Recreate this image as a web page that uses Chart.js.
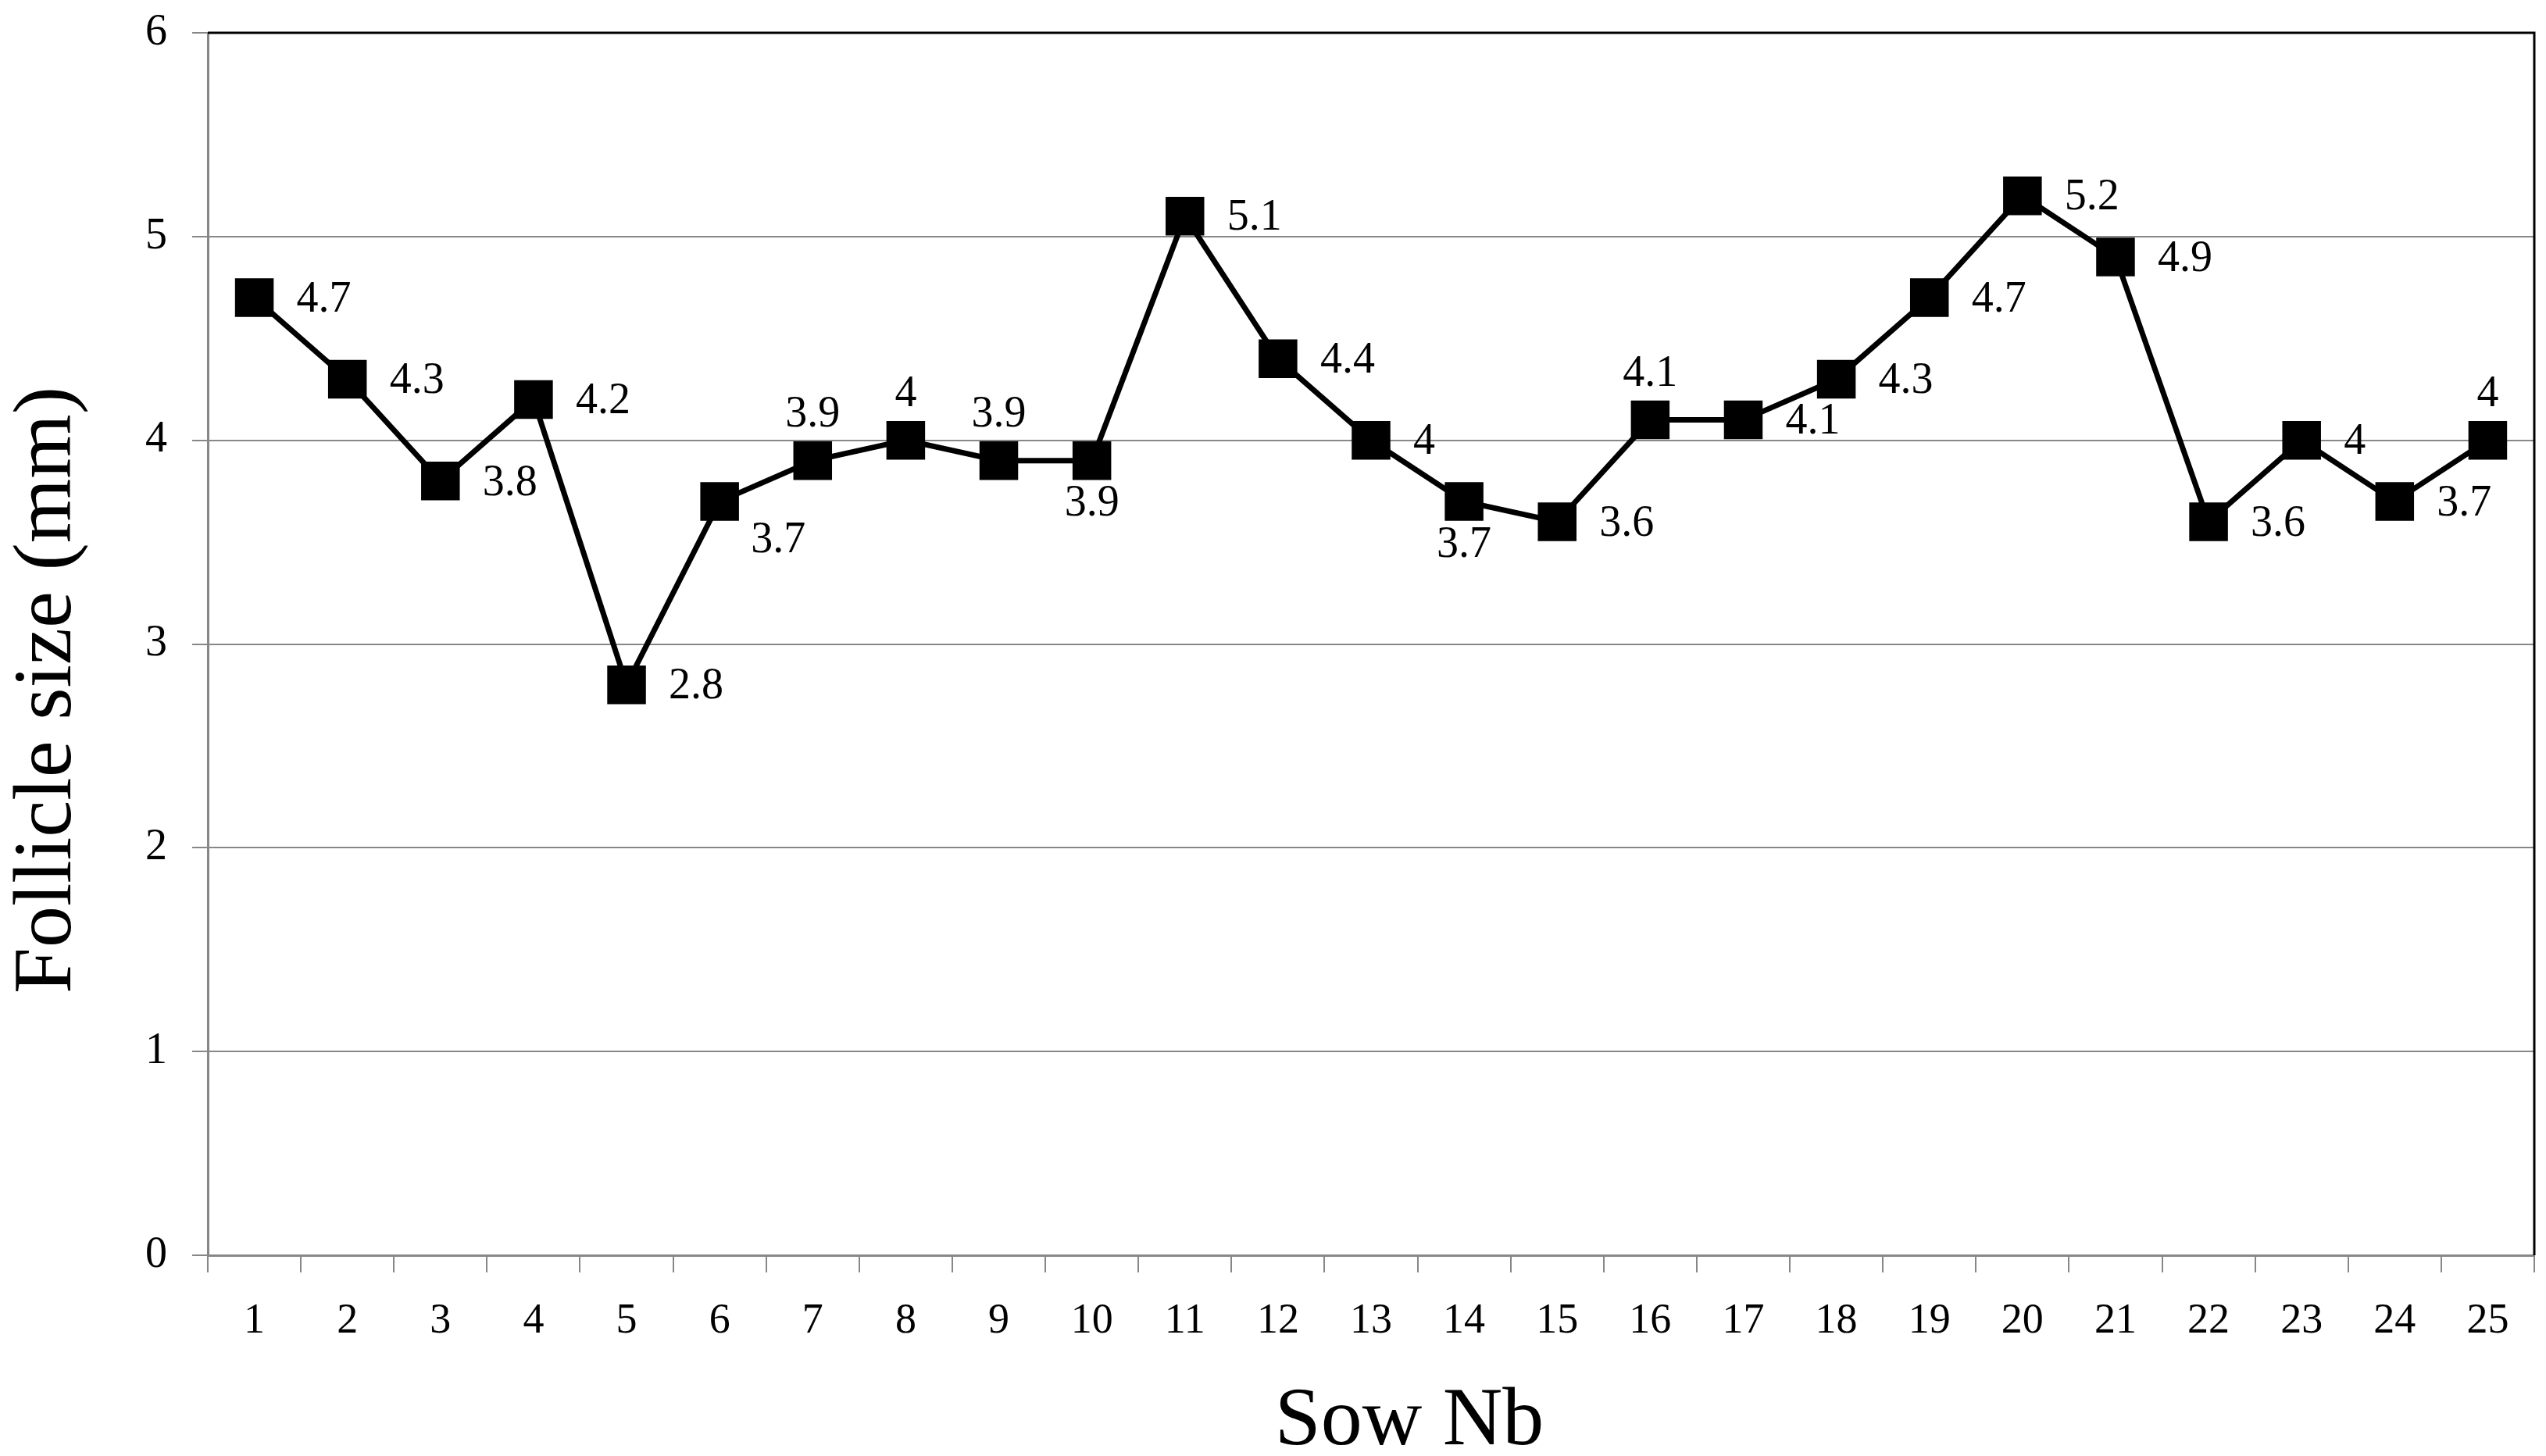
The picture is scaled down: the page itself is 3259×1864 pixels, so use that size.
<!DOCTYPE html>
<html>
<head>
<meta charset="utf-8">
<script src="https://cdn.jsdelivr.net/npm/chart.js@4/dist/chart.umd.min.js"></script>
<style>
  html, body { margin: 0; padding: 0; background: #fff; overflow: hidden; }
  #wrap { width: 3259px; height: 1864px; position: relative; }
  canvas { display: block; }
</style>
</head>
<body>
<div id="wrap"><canvas id="chart"></canvas></div>
<script>
// ========== DATA ==========
const sows = ["1", "2", "3", "4", "5", "6", "7", "8", "9", "10", "11", "12", "13",
              "14", "15", "16", "17", "18", "19", "20", "21", "22", "23", "24", "25"];
const follicleSize = [4.7, 4.3, 3.8, 4.2, 2.8, 3.7, 3.9, 4, 3.9, 3.9, 5.1, 4.4, 4,
                      3.7, 3.6, 4.1, 4.1, 4.3, 4.7, 5.2, 4.9, 3.6, 4, 3.7, 4];
const yTicks = [0, 1, 2, 3, 4, 5, 6];

// where each value label sits relative to its marker
const labelSide = ["r", "r", "r", "r", "r", "rb", "a", "a", "a", "b", "r", "r", "r",
                   "b", "r", "a", "r", "r", "r", "r", "r", "r", "r", "r", "a"];

const xTitle = "Sow Nb";
const yTitle = "Follicle size (mm)";

// ========== STYLE ==========
const FONT = "'Liberation Serif', 'Times New Roman', serif";
const GRID_GREY = "#878787";

const sideOffsets = {
    r:  { dx: 54, dy: 3, align: "left" },
    rb: { dx: 40, dy: 50, align: "left" },
    a:  { dx: 0, dy: -58, align: "center" },
    b:  { dx: 0, dy: 56, align: "center" }
};

// ========== PLUGIN: frame, value labels, axis titles ==========
const decorPlugin = {
    id: "decor",
    beforeDatasetsDraw(chart) {
        const { ctx, chartArea: a } = chart;
        ctx.save();
        ctx.strokeStyle = "#000";
        ctx.lineWidth = 3;
        ctx.beginPath();
        ctx.moveTo(a.left, a.top);
        ctx.lineTo(a.right, a.top);
        ctx.lineTo(a.right, a.bottom);
        ctx.stroke();
        ctx.restore();
    },
    afterDatasetsDraw(chart) {
        const ctx = chart.ctx;
        const meta = chart.getDatasetMeta(0);
        ctx.save();
        ctx.fillStyle = "#000";
        ctx.font = "56px " + FONT;
        ctx.textBaseline = "middle";
        meta.data.forEach((pt, i) => {
            const o = sideOffsets[labelSide[i]];
            ctx.textAlign = o.align;
            ctx.fillText(String(follicleSize[i]), pt.x + o.dx, pt.y + o.dy);
        });
        ctx.restore();
    },
    afterDraw(chart) {
        const { ctx, chartArea: a } = chart;
        ctx.save();
        ctx.fillStyle = "#000";
        ctx.font = "106px " + FONT;
        ctx.textAlign = "center";
        ctx.textBaseline = "middle";
        ctx.fillText(xTitle, (a.left + a.right) / 2 + 49, 1821);
        ctx.translate(62, (a.top + a.bottom) / 2 + 59);
        ctx.rotate(-Math.PI / 2);
        ctx.fillText(yTitle, 0, 0);
        ctx.restore();
    }
};

function noPadding(scale) {
    scale.paddingLeft = 0;
    scale.paddingRight = 0;
    scale.paddingTop = 0;
    scale.paddingBottom = 0;
}

// ========== CHART ==========
const ctx = document.getElementById("chart").getContext("2d");

let follicleChart = new Chart(ctx, {
    type: "line",
    data: {
        labels: sows,
        datasets: [{
            label: "Follicle size",
            data: follicleSize,
            borderColor: "#000",
            backgroundColor: "#000",
            borderWidth: 7,
            tension: 0,
            pointStyle: "rect",
            pointRadius: 35,
            pointBackgroundColor: "#000",
            pointBorderWidth: 0,
            clip: false
        }]
    },
    options: {
        responsive: true,
        maintainAspectRatio: false,
        devicePixelRatio: 1,
        animation: false,
        layout: { autoPadding: false, padding: { top: 42, right: 15, left: 0, bottom: 0 } },
        plugins: {
            legend: { display: false },
            tooltip: { enabled: false }
        },
        scales: {
            x: {
                offset: true,
                grid: {
                    offset: true,
                    drawOnChartArea: false,
                    tickLength: 22,
                    color: GRID_GREY,
                    lineWidth: 2
                },
                border: { color: GRID_GREY, width: 3 },
                ticks: {
                    color: "#000",
                    padding: 30,
                    maxRotation: 0,
                    autoSkip: false,
                    font: { family: FONT, size: 54 }
                },
                afterFit(scale) { scale.height = 257; noPadding(scale); }
            },
            y: {
                min: yTicks[0],
                max: yTicks[yTicks.length - 1],
                afterBuildTicks(scale) {
                    scale.ticks = yTicks.map(v => ({ value: v }));
                },
                grid: {
                    tickLength: 20,
                    color: GRID_GREY,
                    lineWidth: 2
                },
                border: { color: GRID_GREY, width: 3 },
                ticks: {
                    color: "#000",
                    padding: 32,
                    font: { family: FONT, size: 56 }
                },
                afterFit(scale) { scale.width = 266; noPadding(scale); }
            }
        }
    },
    plugins: [decorPlugin]
});
</script>
</body>
</html>
